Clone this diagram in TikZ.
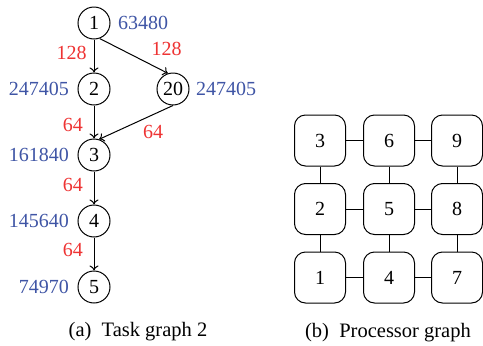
\documentclass[tikz,border=0pt]{standalone}
\usepackage{fontspec}
\setmainfont{Liberation Serif}
\usetikzlibrary{arrows.meta}
\definecolor{valblue}{RGB}{63,85,165}
\definecolor{commred}{RGB}{238,51,51}
\begin{document}
\begin{tikzpicture}[x=1pt,y=-1pt,
  every node/.style={font=\fontsize{20}{23}\selectfont},
  task/.style={draw,circle,minimum size=32pt,inner sep=0pt,line width=1pt},
  cost/.style={text=valblue,inner sep=0pt},
  comm/.style={text=commred,inner sep=0pt},
  proc/.style={draw,rounded corners=11pt,minimum width=51pt,minimum height=51pt,inner sep=0pt,line width=1pt},
  dep/.style={line width=1pt,-{To[length=5pt,width=9pt]}},
  link/.style={line width=1pt},
  captext/.style={inner sep=0pt,font=\fontsize{20.5}{24}\selectfont}]
\useasboundingbox (0,0) rectangle (483,346);
% task graph
\node[task] (n1) at (94,23) {1};
\node[task] (n2) at (94,89) {2};
\node[task] (n20) at (173,89) {20};
\node[task] (n3) at (94,155) {3};
\node[task] (n4) at (94,221) {4};
\node[task] (n5) at (94,287) {5};
\node[cost,anchor=west] (c1) at (118,23) {63480};
\node[cost,anchor=east] (c2) at (69,89) {247405};
\node[cost,anchor=west] (c20) at (196,89) {247405};
\node[cost,anchor=east] (c3) at (69,155) {161840};
\node[cost,anchor=east] (c4) at (69,221) {145640};
\node[cost,anchor=east] (c5) at (69,287) {74970};
\draw[dep] (n1) -- (n2);
\draw[dep] (n1.290) -- (n20.108);
\draw[dep] (n2) -- (n3);
\draw[dep] (n20.south) -- (n3.72);
\draw[dep] (n3) -- (n4);
\draw[dep] (n4) -- (n5);
\node[comm] (e12) at (71.5,53) {128};
\node[comm] (e120) at (166.5,49) {128};
\node[comm] (e23) at (73,125) {64};
\node[comm] (e203) at (153,132) {64};
\node[comm] (e34) at (73,185) {64};
\node[comm] (e45) at (73,250) {64};
\node[captext] (capa) at (138,332) {(a)\hspace{0.5em}Task graph 2};
% processor graph
\node[proc] (p3) at (320,140.5) {3};
\node[proc] (p6) at (389,140.5) {6};
\node[proc] (p9) at (457,140.5) {9};
\node[proc] (p2) at (320,209) {2};
\node[proc] (p5) at (389,209) {5};
\node[proc] (p8) at (457,209) {8};
\node[proc] (p1) at (320,277.5) {1};
\node[proc] (p4) at (389,277.5) {4};
\node[proc] (p7) at (457,277.5) {7};
\draw[link] (p3) -- (p6); \draw[link] (p6) -- (p9);
\draw[link] (p2) -- (p5); \draw[link] (p5) -- (p8);
\draw[link] (p1) -- (p4); \draw[link] (p4) -- (p7);
\draw[link] (p3) -- (p2); \draw[link] (p2) -- (p1);
\draw[link] (p6) -- (p5); \draw[link] (p5) -- (p4);
\draw[link] (p9) -- (p8); \draw[link] (p8) -- (p7);
\node[captext] (capb) at (388,333) {(b)\hspace{0.5em}Processor graph};
\end{tikzpicture}
\end{document}
